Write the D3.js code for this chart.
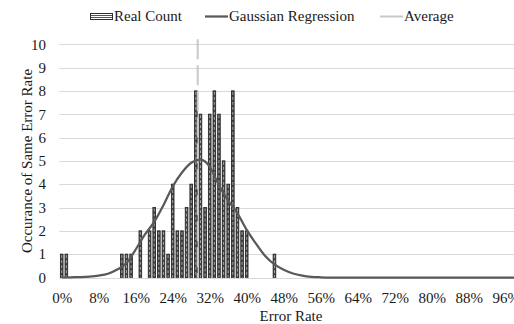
<!DOCTYPE html>
<html>
<head>
<meta charset="utf-8">
<script src="https://cdn.jsdelivr.net/npm/d3@7"></script>
<style>
  body { margin: 0; background: #fff; }
  svg text { font-family: "Liberation Serif", "Times New Roman", serif; fill: #1a1a1a; }
</style>
</head>
<body>
<div id="chart"></div>
<script>
// Real count: error rate (%) -> occurrences
const rates = [0, 1, 13, 14, 15, 17, 19, 20, 21, 22, 23, 24, 25, 26, 27, 28, 29, 30, 31, 32, 33, 34, 35, 36, 37, 38, 39, 40, 46];
const counts = [1, 1, 1, 1, 1, 2, 2, 3, 2, 2, 1, 4, 2, 2, 3, 4, 8, 7, 3, 7, 8, 7, 5, 4, 8, 3, 2, 2, 1];

// Gaussian regression
const fitRates = [0, 2, 4, 6, 8, 10, 12, 14, 16, 18, 20, 22, 24, 26, 28, 30, 32, 34, 36, 38, 40, 42, 44, 46, 48, 50, 52, 54, 56, 58, 60, 70, 80, 90, 100];
const fitValues = [0, 0.01, 0.02, 0.04, 0.08, 0.16, 0.34, 0.62, 1.2, 1.85, 2.38, 3.1, 3.9, 4.5, 4.92, 5.05, 4.75, 3.95, 3.3, 2.75, 2.04, 1.45, 0.92, 0.56, 0.33, 0.17, 0.08, 0.03, 0.01, 0, 0, 0, 0, 0, 0];

const average = 29.4;

const xTicks = [0, 8, 16, 24, 32, 40, 48, 56, 64, 72, 80, 88, 96];
const yTicks = [0, 1, 2, 3, 4, 5, 6, 7, 8, 9, 10];

const width = 514, height = 324;
const catW = 4.625;
const plot = { left: 59.4, bottom: 277.5, top: 44.2 };
const fontSize = 15;

const svg = d3.select('#chart').append('svg')
  .attr('width', width)
  .attr('height', height);

const x = d3.scaleLinear().domain([0, 101]).range([plot.left, plot.left + 101 * catW]);
const y = d3.scaleLinear().domain([0, 10]).range([plot.bottom, plot.top]);

// gridlines
svg.append('g')
  .selectAll('line')
  .data(yTicks)
  .join('line')
  .attr('x1', plot.left).attr('x2', width)
  .attr('y1', d => Math.round(y(d)) + 0.5).attr('y2', d => Math.round(y(d)) + 0.5)
  .attr('stroke', '#d9d9d9')
  .attr('stroke-width', 1);

// y axis labels
const yAxis = d3.axisLeft(y).tickValues(yTicks).tickSize(0).tickPadding(0);
svg.append('g')
  .attr('transform', 'translate(46,0)')
  .call(yAxis)
  .call(g => g.attr('font-family', null).attr('font-size', null))
  .call(g => g.select('.domain').remove())
  .call(g => g.selectAll('text')
    .style('font-size', fontSize + 'px')
    .attr('fill', '#1a1a1a'));

// x axis labels
const xAxis = d3.axisBottom(x)
  .tickValues(xTicks.map(t => t + 0.5))
  .tickFormat(d => Math.round(d - 0.5) + '%')
  .tickSize(0).tickPadding(0);
svg.append('g')
  .attr('transform', 'translate(0,292)')
  .call(xAxis)
  .call(g => g.attr('font-family', null).attr('font-size', null))
  .call(g => g.select('.domain').remove())
  .call(g => g.selectAll('text')
    .style('font-size', fontSize + 'px')
    .attr('fill', '#1a1a1a'));

// bars: dark outline, light dashed centre
const barW = 2.6;
const barData = rates.map((r, i) => ({ r, c: counts[i] }));
const bars = svg.append('g');
bars.selectAll('rect')
  .data(barData)
  .join('rect')
  .attr('x', d => x(d.r + 0.5) - barW / 2)
  .attr('width', barW)
  .attr('y', d => y(d.c))
  .attr('height', d => y(0) - y(d.c))
  .attr('fill', '#3c3c3c')
  .attr('stroke', '#2a2a2a')
  .attr('stroke-width', 0.9);
bars.selectAll('line')
  .data(barData)
  .join('line')
  .attr('x1', d => x(d.r + 0.5)).attr('x2', d => x(d.r + 0.5))
  .attr('y1', d => y(d.c) + 1).attr('y2', d => y(0))
  .attr('stroke', '#a8a8a8')
  .attr('stroke-width', 1)
  .attr('stroke-dasharray', '3,2');

// average line
svg.append('line')
  .attr('x1', x(average + 0.5)).attr('x2', x(average + 0.5))
  .attr('y1', y(10) - 5).attr('y2', y(0))
  .attr('stroke', '#c8c8c8')
  .attr('stroke-width', 2)
  .attr('stroke-dasharray', '20,6');

// gaussian curve
const line = d3.line()
  .x(d => x(d[0] + 0.5))
  .y(d => y(d[1]))
  .curve(d3.curveMonotoneX);
svg.append('path')
  .attr('d', line(fitRates.map((r, i) => [r, fitValues[i]])))
  .attr('fill', 'none')
  .attr('stroke', '#595959')
  .attr('stroke-width', 2.25);

// legend
const leg = svg.append('g').style('font-size', fontSize + 'px');
leg.append('rect')
  .attr('x', 90.5).attr('y', 13.5).attr('width', 22).attr('height', 6)
  .attr('fill', '#fff')
  .attr('stroke', '#2e2e2e');
leg.selectAll('line.h')
  .data([15.5, 17.5])
  .join('line')
  .attr('class', 'h')
  .attr('x1', 91).attr('x2', 112)
  .attr('y1', d => d).attr('y2', d => d)
  .attr('stroke', '#555');
leg.append('text').attr('x', 114).attr('y', 21).text('Real Count');
leg.append('line')
  .attr('x1', 205).attr('x2', 228).attr('y1', 16.5).attr('y2', 16.5)
  .attr('stroke', '#595959').attr('stroke-width', 2.25);
leg.append('text').attr('x', 229).attr('y', 21).text('Gaussian Regression');
leg.append('line')
  .attr('x1', 380).attr('x2', 403).attr('y1', 16.5).attr('y2', 16.5)
  .attr('stroke', '#c8c8c8').attr('stroke-width', 2);
leg.append('text').attr('x', 404).attr('y', 21).text('Average');

// axis titles
svg.append('text')
  .attr('x', 291).attr('y', 321)
  .attr('text-anchor', 'middle')
  .style('font-size', fontSize + 'px')
  .text('Error Rate');
svg.append('text')
  .attr('transform', 'translate(32,161) rotate(-90)')
  .attr('text-anchor', 'middle')
  .style('font-size', fontSize + 'px')
  .text('Occurance of Same Error Rate');
</script>
</body>
</html>
